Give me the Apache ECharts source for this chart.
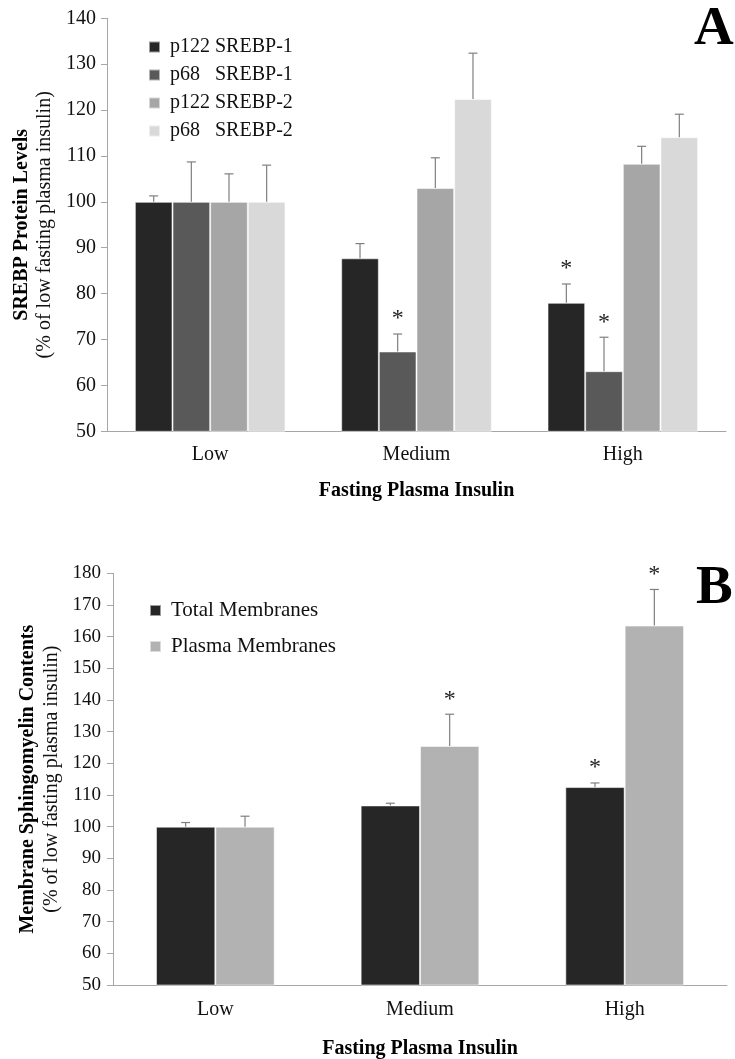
<!DOCTYPE html>
<html>
<head>
<meta charset="utf-8">
<script src="https://cdn.jsdelivr.net/npm/echarts@6/dist/echarts.min.js"></script>
<style>
  html, body { margin: 0; padding: 0; background: #fff; }
  #chart { width: 735px; height: 1059px; }
</style>
</head>
<body>
<div id="chart"></div>
<script>
// Categories shared by both panels
const categories = ['Low', 'Medium', 'High'];

// Panel A: SREBP protein levels (% of low fasting plasma insulin), mean and SEM
const p122Srebp1 = [100, 87.7, 78.0];
const p122Srebp1Err = [1.3, 3.2, 4.1];
const p122Srebp1Sig = [0, 0, 1];
const p68Srebp1 = [100, 67.4, 63.1];
const p68Srebp1Err = [8.7, 3.8, 7.4];
const p68Srebp1Sig = [0, 1, 1];
const p122Srebp2 = [100, 103.0, 108.3];
const p122Srebp2Err = [6.1, 6.6, 3.8];
const p122Srebp2Sig = [0, 0, 0];
const p68Srebp2 = [100, 122.4, 114.1];
const p68Srebp2Err = [8.0, 10.0, 5.0];
const p68Srebp2Sig = [0, 0, 0];

// Panel B: membrane sphingomyelin contents (% of low fasting plasma insulin)
const totalMembranes = [100, 106.7, 112.5];
const totalMembranesErr = [1.3, 0.7, 1.3];
const totalMembranesSig = [0, 0, 1];
const plasmaMembranes = [100, 125.5, 163.5];
const plasmaMembranesErr = [3.3, 10.0, 11.4];
const plasmaMembranesSig = [0, 1, 1];

const serif = 'Liberation Serif';
const axisGray = '#a6a6a6';
const errGray = '#7f7f7f';

const gapA = 0.27;
const gapB = 0.42;

function barSeries(name, data, color, axisIdx, gap) {
  return {
    name: name,
    type: 'bar',
    xAxisIndex: axisIdx,
    yAxisIndex: axisIdx,
    data: data,
    barGap: '0%',
    barCategoryGap: (gap * 100) + '%',
    itemStyle: { color: color, borderColor: 'rgba(255,255,255,0.55)', borderWidth: 1 },
    emphasis: { disabled: true },
    animation: false
  };
}

// Upward error bar with cap, plus significance asterisk, placed over bar i of n
function errSeries(values, errs, sig, i, n, axisIdx, gap) {
  return {
    type: 'custom',
    xAxisIndex: axisIdx,
    yAxisIndex: axisIdx,
    silent: true,
    z: 5,
    animation: false,
    data: values.map((v, k) => [k, v, errs[k], sig[k]]),
    renderItem: function (params, api) {
      const cat = api.value(0), v = api.value(1), e = api.value(2), s = api.value(3);
      const band = api.size([1, 0])[0];
      const total = band * (1 - gap);
      const bw = total / n;
      const cx = api.coord([cat, v])[0] - total / 2 + bw * (i + 0.5);
      const y0 = api.coord([cat, v])[1];
      const y1 = api.coord([cat, v + e])[1];
      const children = [
        { type: 'line', shape: { x1: cx, y1: y0, x2: cx, y2: y1 }, style: { stroke: errGray, lineWidth: 1.2 } },
        { type: 'line', shape: { x1: cx - 4.5, y1: y1, x2: cx + 4.5, y2: y1 }, style: { stroke: errGray, lineWidth: 1.2 } }
      ];
      if (s) {
        children.push({
          type: 'text',
          style: { text: '*', x: cx, y: y1 - 3, align: 'center', verticalAlign: 'bottom',
                   fill: '#222', font: '24px "' + serif + '"' }
        });
      }
      return { type: 'group', children: children };
    }
  };
}

function yName(bold, normal) {
  return '{b|' + bold + '}\n{n|' + normal + '}';
}

const chart = echarts.init(document.getElementById('chart'), null, { renderer: 'canvas' });

chart.setOption({
  backgroundColor: '#fff',
  animation: false,
  textStyle: { fontFamily: serif },
  title: [
    { text: 'A', left: 694, top: 2, padding: 0, textStyle: { fontFamily: serif, fontWeight: 'bold', fontSize: 55, color: '#000' } },
    { text: 'B', left: 696, top: 561, padding: 0, textStyle: { fontFamily: serif, fontWeight: 'bold', fontSize: 55, color: '#000' } }
  ],
  legend: [
    {
      data: ['p122 SREBP-1', 'p68   SREBP-1', 'p122 SREBP-2', 'p68   SREBP-2'],
      orient: 'vertical', left: 143, top: 32, itemWidth: 11, itemHeight: 11, itemGap: 8,
      icon: 'rect', selectedMode: false,
      textStyle: { fontFamily: serif, fontSize: 20, lineHeight: 20, color: '#111', padding: [0, 0, 0, 5] }
    },
    {
      data: ['Total Membranes', 'Plasma Membranes'],
      orient: 'vertical', left: 144, top: 595, itemWidth: 11, itemHeight: 11, itemGap: 15,
      icon: 'rect', selectedMode: false,
      textStyle: { fontFamily: serif, fontSize: 21, lineHeight: 21, color: '#111', padding: [0, 0, 0, 5] }
    }
  ],
  grid: [
    { left: 107, top: 18.3, width: 619, height: 413, outerBoundsMode: 'none' },
    { left: 113, top: 573.3, width: 614, height: 411.7, outerBoundsMode: 'none' }
  ],
  xAxis: [
    {
      type: 'category', gridIndex: 0, data: categories,
      axisLine: { lineStyle: { color: axisGray, width: 1 } },
      axisTick: { length: 6, lineStyle: { color: axisGray } },
      axisLabel: { margin: 13, color: '#111', fontFamily: serif, fontSize: 20 },
      name: 'Fasting Plasma Insulin', nameLocation: 'middle', nameGap: 50,
      nameTextStyle: { fontFamily: serif, fontWeight: 'bold', fontSize: 20, color: '#000' }
    },
    {
      type: 'category', gridIndex: 1, data: categories,
      axisLine: { lineStyle: { color: axisGray, width: 1 } },
      axisTick: { length: 6, lineStyle: { color: axisGray } },
      axisLabel: { margin: 15, color: '#111', fontFamily: serif, fontSize: 20 },
      name: 'Fasting Plasma Insulin', nameLocation: 'middle', nameGap: 54,
      nameTextStyle: { fontFamily: serif, fontWeight: 'bold', fontSize: 20, color: '#000' }
    }
  ],
  yAxis: [
    {
      type: 'value', gridIndex: 0, min: 50, max: 140, interval: 10,
      splitLine: { show: false },
      axisLine: { show: true, lineStyle: { color: axisGray, width: 1 } },
      axisTick: { show: true, length: 6, lineStyle: { color: axisGray } },
      axisLabel: { margin: 11, color: '#111', fontFamily: serif, fontSize: 20 },
      name: yName('SREBP Protein Levels', '(% of low fasting plasma insulin)'),
      nameLocation: 'middle', nameRotate: 90, nameGap: 49,
      nameTextStyle: {
        rich: {
          b: { fontFamily: serif, fontWeight: 'bold', fontSize: 20, color: '#000', lineHeight: 23 },
          n: { fontFamily: serif, fontSize: 20, color: '#111', lineHeight: 23 }
        }
      }
    },
    {
      type: 'value', gridIndex: 1, min: 50, max: 180, interval: 10,
      splitLine: { show: false },
      axisLine: { show: true, lineStyle: { color: axisGray, width: 1 } },
      axisTick: { show: true, length: 6, lineStyle: { color: axisGray } },
      axisLabel: { margin: 12, color: '#111', fontFamily: serif, fontSize: 19 },
      name: yName('Membrane Sphingomyelin Contents', '(% of low fasting plasma insulin)'),
      nameLocation: 'middle', nameRotate: 90, nameGap: 46,
      nameTextStyle: {
        rich: {
          b: { fontFamily: serif, fontWeight: 'bold', fontSize: 20, color: '#000', lineHeight: 24 },
          n: { fontFamily: serif, fontSize: 20, color: '#111', lineHeight: 24 }
        }
      }
    }
  ],
  series: [
    barSeries('p122 SREBP-1', p122Srebp1, '#262626', 0, gapA),
    barSeries('p68   SREBP-1', p68Srebp1, '#595959', 0, gapA),
    barSeries('p122 SREBP-2', p122Srebp2, '#a6a6a6', 0, gapA),
    barSeries('p68   SREBP-2', p68Srebp2, '#d9d9d9', 0, gapA),
    errSeries(p122Srebp1, p122Srebp1Err, p122Srebp1Sig, 0, 4, 0, gapA),
    errSeries(p68Srebp1, p68Srebp1Err, p68Srebp1Sig, 1, 4, 0, gapA),
    errSeries(p122Srebp2, p122Srebp2Err, p122Srebp2Sig, 2, 4, 0, gapA),
    errSeries(p68Srebp2, p68Srebp2Err, p68Srebp2Sig, 3, 4, 0, gapA),

    barSeries('Total Membranes', totalMembranes, '#262626', 1, gapB),
    barSeries('Plasma Membranes', plasmaMembranes, '#b2b2b2', 1, gapB),
    errSeries(totalMembranes, totalMembranesErr, totalMembranesSig, 0, 2, 1, gapB),
    errSeries(plasmaMembranes, plasmaMembranesErr, plasmaMembranesSig, 1, 2, 1, gapB)
  ]
});
</script>
</body>
</html>
